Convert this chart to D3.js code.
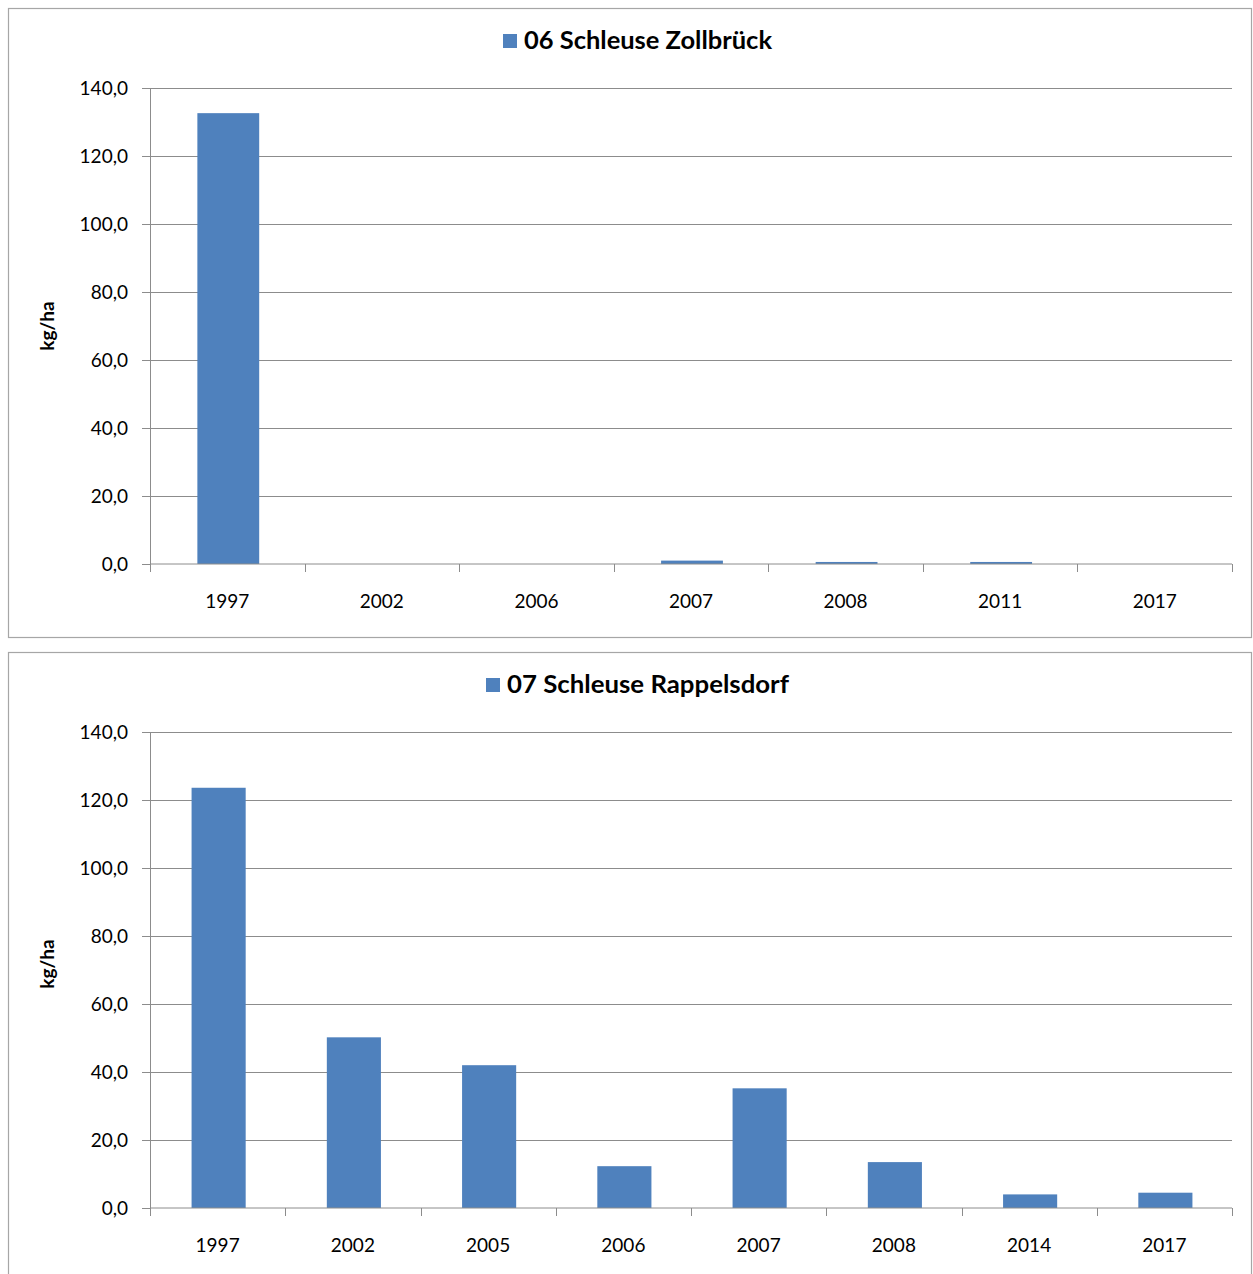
<!DOCTYPE html>
<html>
<head>
<meta charset="utf-8">
<script src="https://cdn.jsdelivr.net/npm/d3@7"></script>
<style>
  body { margin: 0; background: #fff; }
  text { font-family: Lato, "Open Sans", sans-serif; fill: #000; }
</style>
</head>
<body>
<div id="chart"></div>
<script>
// data
const years1 = ["1997", "2002", "2006", "2007", "2008", "2011", "2017"];
const values1 = [132.6, 0, 0, 1.0, 0.6, 0.6, 0];
const years2 = ["1997", "2002", "2005", "2006", "2007", "2008", "2014", "2017"];
const values2 = [123.6, 50.2, 42.0, 12.3, 35.2, 13.5, 4.0, 4.5];
const yTicks = [0, 20, 40, 60, 80, 100, 120, 140];
const title1 = "06 Schleuse Zollbrück";
const title2 = "07 Schleuse Rappelsdorf";
const yLabel = "kg/ha";

const w = 1253, h = 1274;
const barColor = "#4F81BD";
const fmt = d => d.toFixed(1).replace(".", ",");

const svg = d3.select("#chart").append("svg").attr("width", w).attr("height", h);

// draw one panel; top = y offset of its border
const drawPanel = (top, title, cats, vals, titleX, titleW) => {
    const g = svg.append("g").attr("transform", "translate(0," + top + ")");

    // frame
    g.append("rect")
        .attr("x", 8.5).attr("y", 0.5)
        .attr("width", 1243).attr("height", 629)
        .attr("fill", "none").attr("stroke", "#a6a6a6").attr("stroke-width", 1.2);

    const left = 150, right = 1232, yTop = 80, yBot = 556;
    // slots between category ticks, bars sit centred in each slot
    const slot = d3.scaleBand().domain(cats).range([left, right]);
    const x = d3.scaleBand().domain(cats).range([left, right]).paddingInner(0.6).paddingOuter(0.3);
    const y = d3.scaleLinear().domain([0, 140]).range([yBot, yTop]);

    // gridlines
    g.append("g").selectAll("line").data(yTicks.slice(1)).join("line")
        .attr("x1", left).attr("x2", right)
        .attr("y1", d => Math.round(y(d)) + 0.5).attr("y2", d => Math.round(y(d)) + 0.5)
        .attr("stroke", "#8c8c8c").attr("stroke-width", 1);

    // bars
    g.append("g").selectAll("rect").data(vals).join("rect")
        .attr("x", (d, i) => x(cats[i]) + 1)
        .attr("width", x.bandwidth())
        .attr("y", d => y(d))
        .attr("height", d => yBot - y(d))
        .attr("fill", barColor);

    // y axis
    const yAxis = d3.axisLeft(y).tickValues(yTicks).tickFormat(fmt).tickSize(8).tickPadding(14);
    const ya = g.append("g").attr("transform", "translate(" + left + ",0)").call(yAxis);
    ya.select(".domain").attr("stroke", "#8c8c8c");
    ya.selectAll(".tick line").attr("stroke", "#8c8c8c");
    ya.selectAll(".tick text").style("font-size", "19px").attr("fill", "#000");

    // x axis, ticks between categories
    const xa = g.append("g").attr("transform", "translate(0," + yBot + ")");
    xa.append("line").attr("x1", left).attr("x2", right).attr("stroke", "#8c8c8c");
    const edges = cats.map(c => slot(c)).concat([right]);
    xa.selectAll("line.tk").data(edges).join("line").attr("class", "tk")
        .attr("x1", d => Math.round(d) + 0.5).attr("x2", d => Math.round(d) + 0.5)
        .attr("y1", 0).attr("y2", 8).attr("stroke", "#8c8c8c");
    xa.selectAll("text").data(cats).join("text")
        .attr("x", d => slot(d) + slot.bandwidth() / 2)
        .attr("y", 44)
        .attr("text-anchor", "middle")
        .style("font-size", "19px")
        .text(d => d);

    // y label
    g.append("text")
        .attr("transform", "translate(54," + (top === 8 ? 318 : 312) + ") rotate(-90)")
        .attr("text-anchor", "middle")
        .style("font-size", "19px").style("font-weight", "bold")
        .text(yLabel);

    // legend-style title
    g.append("rect").attr("x", titleX).attr("y", 26).attr("width", 14).attr("height", 14).attr("fill", barColor);
    g.append("text").attr("x", titleX + 21).attr("y", 41)
        .attr("textLength", titleW).attr("lengthAdjust", "spacingAndGlyphs")
        .style("font-size", "24px").style("font-weight", "bold")
        .text(title);
};

drawPanel(8, title1, years1, values1, 503, 248);
drawPanel(652, title2, years2, values2, 486, 282);
</script>
</body>
</html>
